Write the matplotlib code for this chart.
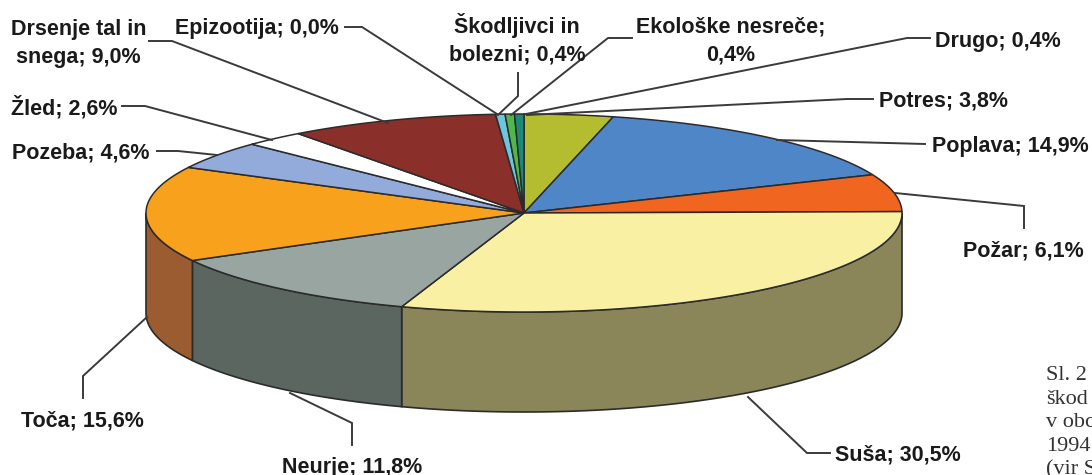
import numpy as np
from matplotlib import pyplot as plt
from matplotlib.patches import Polygon

# Deleži po vrstah nesreč, v smeri urinega kazalca od vrha.
kategorije = ['Potres', 'Poplava', 'Požar', 'Suša', 'Neurje', 'Toča', 'Pozeba',
              'Žled', 'Drsenje', 'Epizootija', 'Škodljivci', 'Ekološke', 'Drugo']
vrednosti = [3.8, 14.9, 6.1, 30.5, 11.8, 15.6, 4.6, 2.6, 9.0, 0.0, 0.4, 0.4, 0.4]
barve_zgoraj = ['#B4BD30', '#4F86C8', '#F0651F', '#F9F0A4', '#98A5A0', '#F8A11C',
                '#93ABDB', '#FFFFFF', '#8B2F2A', '#8B2F2A', '#6EC6DC', '#4FB848', '#1D8A78']
barve_stran = ['#5A5F18', '#284364', '#F0651F', '#8B8659', '#5B6661', '#9A5C30',
               '#4A566E', '#808080', '#451815', '#451815', '#37636E', '#285C24', '#0F453C']

# Oznake: besedilo, x, osnovna črta y, poravnava
oznake = [
    ('Drsenje tal in', 79, 35, 'center'),
    ('snega; 9,0%', 78, 63, 'center'),
    ('Epizootija; 0,0%', 175, 34, 'left'),
    ('Škodljivci in', 517, 33, 'center'),
    ('bolezni; 0,4%', 517, 61, 'center'),
    ('Ekološke nesreče;', 731, 33, 'center'),
    ('0,4%', 731, 60, 'center'),
    ('Drugo; 0,4%', 935, 47, 'left'),
    ('Potres; 3,8%', 879, 107, 'left'),
    ('Poplava; 14,9%', 932, 152, 'left'),
    ('Požar; 6,1%', 963, 256, 'left'),
    ('Suša; 30,5%', 835, 461, 'left'),
    ('Neurje; 11,8%', 282, 473, 'left'),
    ('Toča; 15,6%', 21, 426, 'left'),
    ('Žled; 2,6%', 11, 115, 'left'),
    ('Pozeba; 4,6%', 12, 158, 'left'),
]

# Vodilne črte
crte = [
    [(149, 41), (172, 41), (388, 123)],
    [(345, 27), (362, 27), (497, 114)],
    [(518, 73), (518, 96), (498, 115)],
    [(632, 38), (608, 38), (511, 115)],
    [(930, 38), (907, 38), (526, 114)],
    [(873, 99), (847, 99), (527, 115)],
    [(925, 144), (777, 140)],
    [(1024, 228), (1024, 206), (895, 193)],
    [(830, 453), (807, 453), (748, 397)],
    [(352, 445), (352, 423), (290, 393)],
    [(83, 398), (83, 376), (147, 317)],
    [(122, 106), (145, 106), (272, 140)],
    [(157, 151), (178, 151), (217, 155)],
]

napis = ['Sl. 2', 'škod', 'v obc', '1994', '(vir S']

cx, cy, rx, ry, visina = 524, 213, 378, 99, 100
temna = '#2B2B2B'


def lok(a, b, dy=0):
    kot = np.radians(np.linspace(a, b, max(int(abs(b - a) * 2), 2)))
    return np.column_stack((cx + rx * np.sin(kot), cy + dy - ry * np.cos(kot)))


fig = plt.figure(figsize=(10.92, 4.75), dpi=100)
ax = fig.add_axes([0, 0, 1, 1])
ax.set_xlim(0, 1092)
ax.set_ylim(475, 0)
ax.axis('off')

meje = np.concatenate(([0], np.cumsum(vrednosti))) / sum(vrednosti) * 360

# Stranice torte
for i in range(len(vrednosti)):
    a, b = max(meje[i], 90), min(meje[i + 1], 270)
    if b > a:
        tocke = np.vstack((lok(a, b), lok(b, a, visina)))
        ax.add_patch(Polygon(tocke, closed=True, fc=barve_stran[i], ec=temna, lw=1.2, zorder=2))

# Zgornja ploskev
for i in range(len(vrednosti)):
    if vrednosti[i] > 0:
        tocke = np.vstack(([(cx, cy)], lok(meje[i], meje[i + 1])))
        ax.add_patch(Polygon(tocke, closed=True, fc=barve_zgoraj[i], ec=temna, lw=1.1, zorder=3))

for crta in crte:
    x, y = zip(*crta)
    ax.plot(x, y, color='#3A3A3A', lw=1.4, zorder=4, solid_joinstyle='miter')

for besedilo, x, y, poravnava in oznake:
    ax.text(x, y, besedilo, ha=poravnava, va='baseline', fontsize=15.5, fontweight='bold',
            family='Liberation Sans', color='#1A1A1A', zorder=5)

for i, vrstica in enumerate(napis):
    ax.text(1046, 380 + i * 23.7, vrstica, ha='left', va='baseline', fontsize=16,
            family='Liberation Serif', color='#333333')

plt.savefig('out.png', dpi=100)
